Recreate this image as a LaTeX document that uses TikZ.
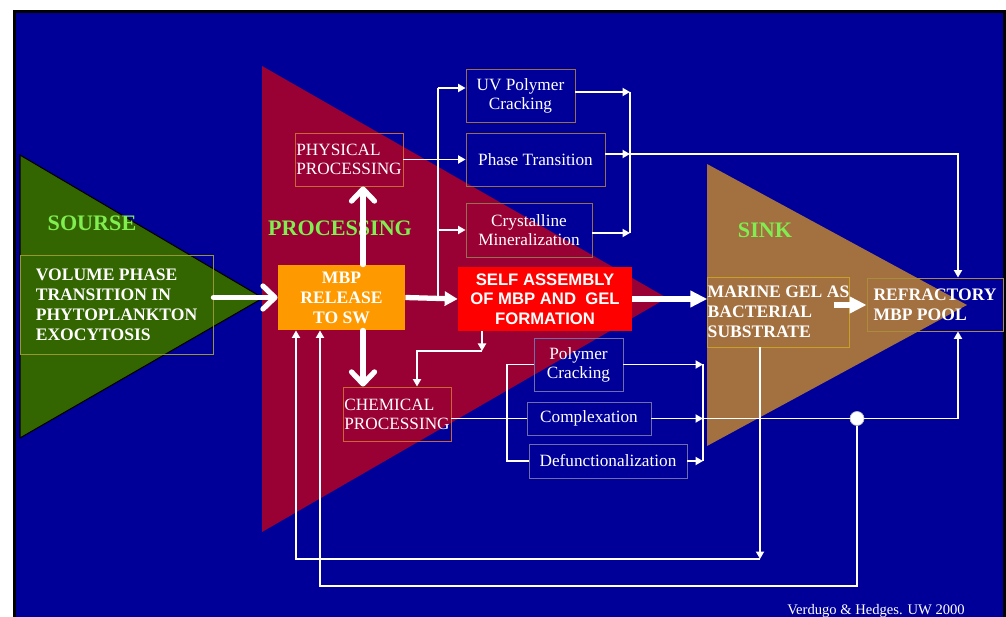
\documentclass[tikz,border=0pt]{standalone}
\usepackage{fontspec}
\setmainfont{Liberation Serif}
\newfontfamily\arialfont{Liberation Sans}
\usetikzlibrary{arrows.meta,calc}
\definecolor{bgblue}{RGB}{0,0,153}
\definecolor{procred}{RGB}{153,0,51}
\definecolor{srcgreen}{RGB}{51,102,0}
\definecolor{sinkbrown}{RGB}{163,112,64}
\definecolor{mbporange}{RGB}{255,153,0}
\definecolor{selfred}{RGB}{255,0,0}
\definecolor{zonegreen}{RGB}{128,238,80}
\definecolor{srcedge}{RGB}{150,150,50}
\definecolor{procedge}{RGB}{204,102,51}
\definecolor{pathedge}{RGB}{150,110,80}
\definecolor{fateedge}{RGB}{110,110,170}
\definecolor{geledge}{RGB}{200,160,40}
\definecolor{pooledge}{RGB}{170,140,60}
\tikzset{
  zonelabel/.style={text=zonegreen, inner sep=0pt, font=\fontsize{12.6}{14}\selectfont\bfseries},
  bigbox/.style={line width=0.5pt, text=white, inner sep=0pt, align=left, font=\fontsize{10}{11.4}\selectfont\bfseries},
  procbox/.style={draw=procedge, line width=0.5pt, text=white, inner sep=0pt, align=left, font=\fontsize{9.8}{10.8}\selectfont},
  pathbox/.style={draw=pathedge, line width=0.5pt, text=white, inner sep=0pt, align=center, font=\fontsize{9.8}{10.8}\selectfont},
  fatebox/.style={draw=fateedge, line width=0.5pt, text=white, inner sep=0pt, align=center, font=\fontsize{9.8}{10.8}\selectfont},
  selfbox/.style={fill=selfred, text=white, inner sep=0pt, align=center, font=\fontsize{9.5}{11}\arialfont\bfseries},
  knotdot/.style={circle, fill=white, draw=gray!50, line width=0.4pt, minimum size=0.28cm, inner sep=0pt},
  credit/.style={text=white, inner sep=0pt, font=\fontsize{8.3}{10}\selectfont},
  thinline/.style={white, line width=1.1pt},
  thinarrow/.style={white, line width=1.1pt, -{Triangle[length=1.5mm, width=1.6mm]}},
  fatarrow/.style={white, line width=3pt, -{Triangle[length=3.4mm, width=3.2mm]}},
  chevron/.style={white, line width=3pt, line cap=round, -{Straight Barb[length=2.4mm, width=4.6mm, round]}}
}
\begin{document}
\begin{tikzpicture}[x=0.02cm, y=-0.02cm]
  \useasboundingbox (0,0) rectangle (1006,617);
  \fill[black] (13,10) rectangle (1006,617);
  \fill[bgblue] (16,13) rectangle (1003,617);
  \filldraw[fill=srcgreen, draw=black, line width=0.6pt] (20,155) -- (263,298) -- (20,438) -- cycle;
  \fill[procred] (262,66) -- (667,298) -- (262,532) -- cycle;
  \fill[sinkbrown] (707,164) -- (967,305) -- (707,446) -- cycle;

  \node[zonelabel] (sourse) at (92,223) {SOURSE};
  \node[zonelabel] (processing) at (340,228) {PROCESSING};
  \node[zonelabel] (sink) at (765,230) {SINK};

  \node[bigbox, draw=srcedge, minimum width=3.86cm, minimum height=1.98cm] (src) at (116.5,304.5) {VOLUME PHASE\\TRANSITION IN\\PHYTOPLANKTON\\EXOCYTOSIS};
  \node[bigbox, fill=mbporange, align=center, minimum width=2.54cm, minimum height=1.30cm] (mbp) at (341.5,297.5) {MBP\\RELEASE\\TO SW};
  \node[procbox, minimum width=2.16cm, minimum height=1.06cm] (phys) at (349,159.5) {PHYSICAL\\PROCESSING};
  \node[procbox, minimum width=2.16cm, minimum height=1.08cm] (chem) at (397,414) {CHEMICAL\\PROCESSING};
  \node[selfbox, minimum width=3.48cm, minimum height=1.28cm] (self) at (545,299) {SELF ASSEMBLY\\OF MBP AND\ \ GEL\\FORMATION};
  \node[pathbox, minimum width=2.18cm, minimum height=1.06cm] (uv) at (520.5,95.5) {UV Polymer\\Cracking};
  \node[pathbox, minimum width=2.78cm, minimum height=1.06cm] (phase) at (535.5,159.5) {Phase Transition};
  \node[pathbox, minimum width=2.52cm, minimum height=1.08cm] (cryst) at (529,230) {Crystalline\\Mineralization};
  \node[fatebox, minimum width=1.78cm, minimum height=1.06cm] (poly) at (578.5,364.5) {Polymer\\Cracking};
  \node[fatebox, minimum width=2.48cm, minimum height=0.66cm] (cplx) at (589,418.5) {Complexation};
  \node[fatebox, minimum width=3.16cm, minimum height=0.68cm] (defn) at (608,461) {Defunctionalization};
  \node[bigbox, draw=geledge, minimum width=2.82cm, minimum height=1.40cm] (gel) at (778.5,312) {MARINE GEL AS\\BACTERIAL\\SUBSTRATE};
  \node[bigbox, draw=pooledge, minimum width=2.72cm, minimum height=1.06cm] (pool) at (935,304.5) {REFRACTORY\\MBP POOL};
  \node[knotdot] (knot) at (857,418.5) {};
  \node[credit, anchor=base] (credit) at (876,614) {Verdugo \& Hedges. UW 2000};

  \coordinate (vtop) at (363,0);
  \coordinate (forktop) at (438,88);
  \coordinate (forkbot) at (438,297);
  \coordinate (mergetop) at (630,92);
  \coordinate (mergemid) at (630,154);
  \coordinate (mergebot) at (630,233);
  \coordinate (poolcol) at (958,0);
  \coordinate (selfdrop) at (482,351);
  \coordinate (chemcol) at (417,0);
  \coordinate (chemfork) at (507,0);
  \coordinate (gelcol) at (703,0);
  \coordinate (gelout) at (834,305);
  \coordinate (gelturn) at (760,559);
  \coordinate (retA) at (296,559);
  \coordinate (retB) at (320,586);

  \draw[chevron] (src.east |- mbp.west) -- (mbp.west);
  \draw[chevron] (mbp.north -| vtop) -- (phys.south -| vtop);
  \draw[chevron] (mbp.south -| vtop) -- (chem.north -| vtop);
  \draw[fatarrow, -{Triangle[length=2.6mm, width=2.8mm]}] (mbp.east) -- (self.west);
  \draw[fatarrow] (self.east) -- (gel.west |- self.east);
  \draw[fatarrow] (gelout) -- (pool.west |- gelout);

  \draw[thinline] (forkbot) -- (forktop);
  \draw[thinarrow] (forktop) -- (forktop -| uv.west);
  \draw[thinarrow] (phys.east) -- (phase.west);
  \draw[thinarrow] (forktop |- cryst.west) -- (cryst.west);
  \draw[thinarrow] (uv.east |- mergetop) -- (mergetop);
  \draw[thinarrow] (phase.east |- mergemid) -- (mergemid);
  \draw[thinarrow] (cryst.east |- mergebot) -- (mergebot);
  \draw[thinline] (mergetop) -- (mergebot);
  \draw[thinarrow] (mergemid) -| (pool.north -| poolcol);

  \draw[thinarrow] (self.south -| selfdrop) -- (selfdrop);
  \draw[thinarrow] (selfdrop) -| (chem.north -| chemcol);
  \draw[thinline] (chem.east |- cplx.west) -- (cplx.west);
  \draw[thinline] (poly.west) -- (poly.west -| chemfork) -- (defn.west -| chemfork) -- (defn.west);
  \draw[thinarrow] (poly.east) -- (poly.east -| gelcol);
  \draw[thinarrow] (cplx.east) -- (cplx.east -| gelcol);
  \draw[thinarrow] (defn.east) -- (defn.east -| gelcol);
  \draw[thinline] (poly.east -| gelcol) -- (defn.east -| gelcol);
  \draw[thinline] (cplx.east -| gelcol) -- (knot);
  \draw[thinarrow] (knot) -| (pool.south -| poolcol);
  \draw[thinarrow] (knot) |- (retB) -- (mbp.south -| retB);
  \draw[thinarrow] (gel.south -| gelturn) -- (gelturn);
  \draw[thinarrow] (gelturn) -- (retA) -- (mbp.south -| retA);
\end{tikzpicture}
\end{document}
